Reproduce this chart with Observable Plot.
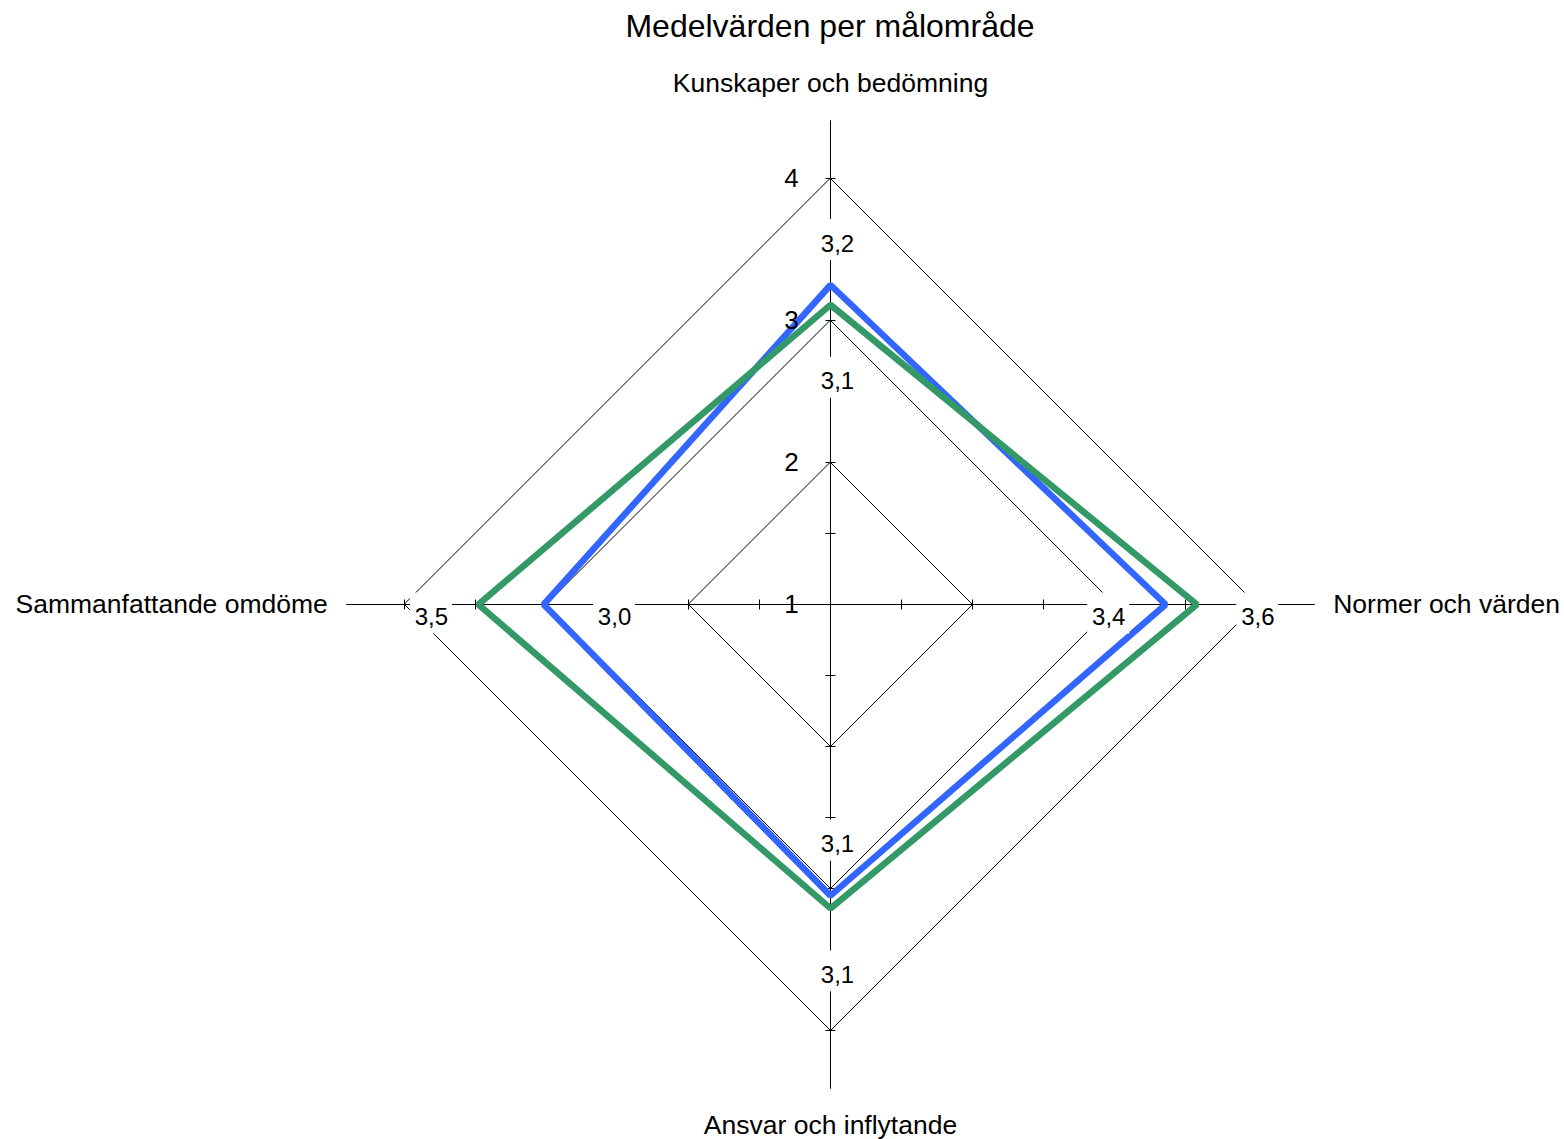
<!DOCTYPE html>
<html><head><meta charset="utf-8">
<script src="https://cdn.jsdelivr.net/npm/d3@7"></script>
<script src="https://cdn.jsdelivr.net/npm/@observablehq/plot@0.6"></script>
<style>
html,body{margin:0;padding:0;background:#fff;overflow:hidden;}
#title{box-sizing:border-box;width:1564px;padding-left:96px;height:54px;line-height:52px;text-align:center;
  font-family:"Liberation Sans",Arial,sans-serif;font-size:32px;color:#000;}
#chart svg{display:block;}
</style></head><body>
<div id="title">Medelvärden per målområde</div>
<div id="chart"></div>
<script>
// ---- data ----
const axisNames = ["Kunskaper och bedömning", "Normer och värden", "Ansvar och inflytande", "Sammanfattande omdöme"];
const seriesNames = ["Serie 1", "Serie 2"];
const seriesColors = ["#3366ff", "#339966"];
const series1Values = [3.25, 3.36, 3.05, 3.02];
const series2Values = [3.11, 3.58, 3.14, 3.48];
const series1Labels = ["3,2", "3,4", "3,1", "3,0"];
const series2Labels = ["3,1", "3,6", "3,1", "3,5"];
const gridLevels = [2, 3, 4];
const tickLabelValues = [1, 2, 3, 4];
const tickLabels = ["1", "2", "3", "4"];
const tickMarkValues = [1.5, 2, 2.5, 3, 3.5, 4];
const rMin = 1, rMax = 4.41;

// ---- geometry helpers ----
const U = 142;               // pixels per unit
const W = 1564, H = 1085, CX = 830, CY = 550;
const angle = i => Math.PI / 2 - i * Math.PI / 2;
const px = (v, i) => (v - rMin) * Math.cos(angle(i));
const py = (v, i) => (v - rMin) * Math.sin(angle(i));
const idx = axisNames.map((_, i) => i);

const gridData = gridLevels.flatMap(l => idx.map(i => ({level: l, x: px(l, i), y: py(l, i)})));
const axisData = idx.map(i => ({x1: px(rMin, i), y1: py(rMin, i), x2: px(rMax, i), y2: py(rMax, i)}));
const TL = 5 / U;
const tickData = idx.flatMap(i => tickMarkValues.map(v => {
  const a = angle(i), nx = -Math.sin(a), ny = Math.cos(a);
  return {x1: px(v, i) - nx * TL, y1: py(v, i) - ny * TL, x2: px(v, i) + nx * TL, y2: py(v, i) + ny * TL};
}));

const allValues = [series1Values, series2Values];
const allLabels = [series1Labels, series2Labels];
const lineData = allValues.flatMap((vals, s) => vals.map((v, i) => ({s: seriesNames[s], x: px(v, i), y: py(v, i)})));

// value labels: larger value outside, smaller inside
const SX = 7 / U, SY = -9 / U, BW = 21 / U, BH = 20.5 / U;
const labelData = [];
idx.forEach(i => {
  allValues.forEach((vals, s) => {
    const other = allValues[1 - s][i];
    const outer = vals[i] > other || (vals[i] === other && s === 1);
    const r = outer ? vals[i] + 0.38 : vals[i] - 0.45;
    const x = px(r, i) + SX, y = py(r, i) + SY;
    labelData.push({text: allLabels[s][i], x, y, x1: x - BW, x2: x + BW, y1: y - BH, y2: y + BH});
  });
});

const nameData = idx.map(i => {
  const c = Math.cos(angle(i));
  const horiz = Math.abs(c) > 0.5;
  const r = horiz ? rMax + 0.13 : rMax + 0.26;
  return {name: axisNames[i], x: px(r, i), y: py(r, i),
    anchor: horiz ? (c > 0 ? "start" : "end") : "middle"};
});
const tickLabelData = tickLabelValues.map((v, k) => ({t: tickLabels[k], x: px(v, 0), y: py(v, 0)}));

const chart = Plot.plot({
  width: W, height: H,
  marginTop: 0, marginRight: 0, marginBottom: 0, marginLeft: 0,
  x: {domain: [-CX / U, (W - CX) / U], range: [0, W], axis: null},
  y: {domain: [-(H - CY) / U, CY / U], range: [H, 0], axis: null},
  style: {fontFamily: "'Liberation Sans', Arial, sans-serif", background: "white", color: "black"},
  marks: [
    Plot.line(gridData, {x: "x", y: "y", z: "level", curve: "linear-closed", stroke: "black", strokeWidth: 1}),
    Plot.link(axisData, {x1: "x1", y1: "y1", x2: "x2", y2: "y2", stroke: "black", strokeWidth: 1}),
    Plot.link(tickData, {x1: "x1", y1: "y1", x2: "x2", y2: "y2", stroke: "black", strokeWidth: 1}),
    Plot.line(lineData.filter(d => d.s === seriesNames[0]), {x: "x", y: "y", curve: "linear-closed", stroke: seriesColors[0], strokeWidth: 6.5, strokeLinejoin: "miter", strokeLinecap: "butt"}),
    Plot.line(lineData.filter(d => d.s === seriesNames[1]), {x: "x", y: "y", curve: "linear-closed", stroke: seriesColors[1], strokeWidth: 6.5, strokeLinejoin: "miter", strokeLinecap: "butt"}),
    Plot.rect(labelData, {x1: "x1", x2: "x2", y1: "y1", y2: "y2", fill: "white"}),
    Plot.text(labelData, {x: "x", y: "y", text: "text", dy: 4, fontSize: 24, fill: "black"}),
    Plot.text(tickLabelData, {x: "x", y: "y", text: "t", dx: -39, fontSize: 26, fill: "black"}),
    Plot.text(nameData.filter(d => d.anchor === "middle"), {x: "x", y: "y", text: "name", textAnchor: "middle", fontSize: 26.5, fill: "black"}),
    Plot.text(nameData.filter(d => d.anchor === "start"), {x: "x", y: "y", text: "name", textAnchor: "start", fontSize: 26.5, fill: "black"}),
    Plot.text(nameData.filter(d => d.anchor === "end"), {x: "x", y: "y", text: "name", textAnchor: "end", fontSize: 26.5, fill: "black"})
  ]
});
document.getElementById("chart").appendChild(chart);
</script>
</body></html>
